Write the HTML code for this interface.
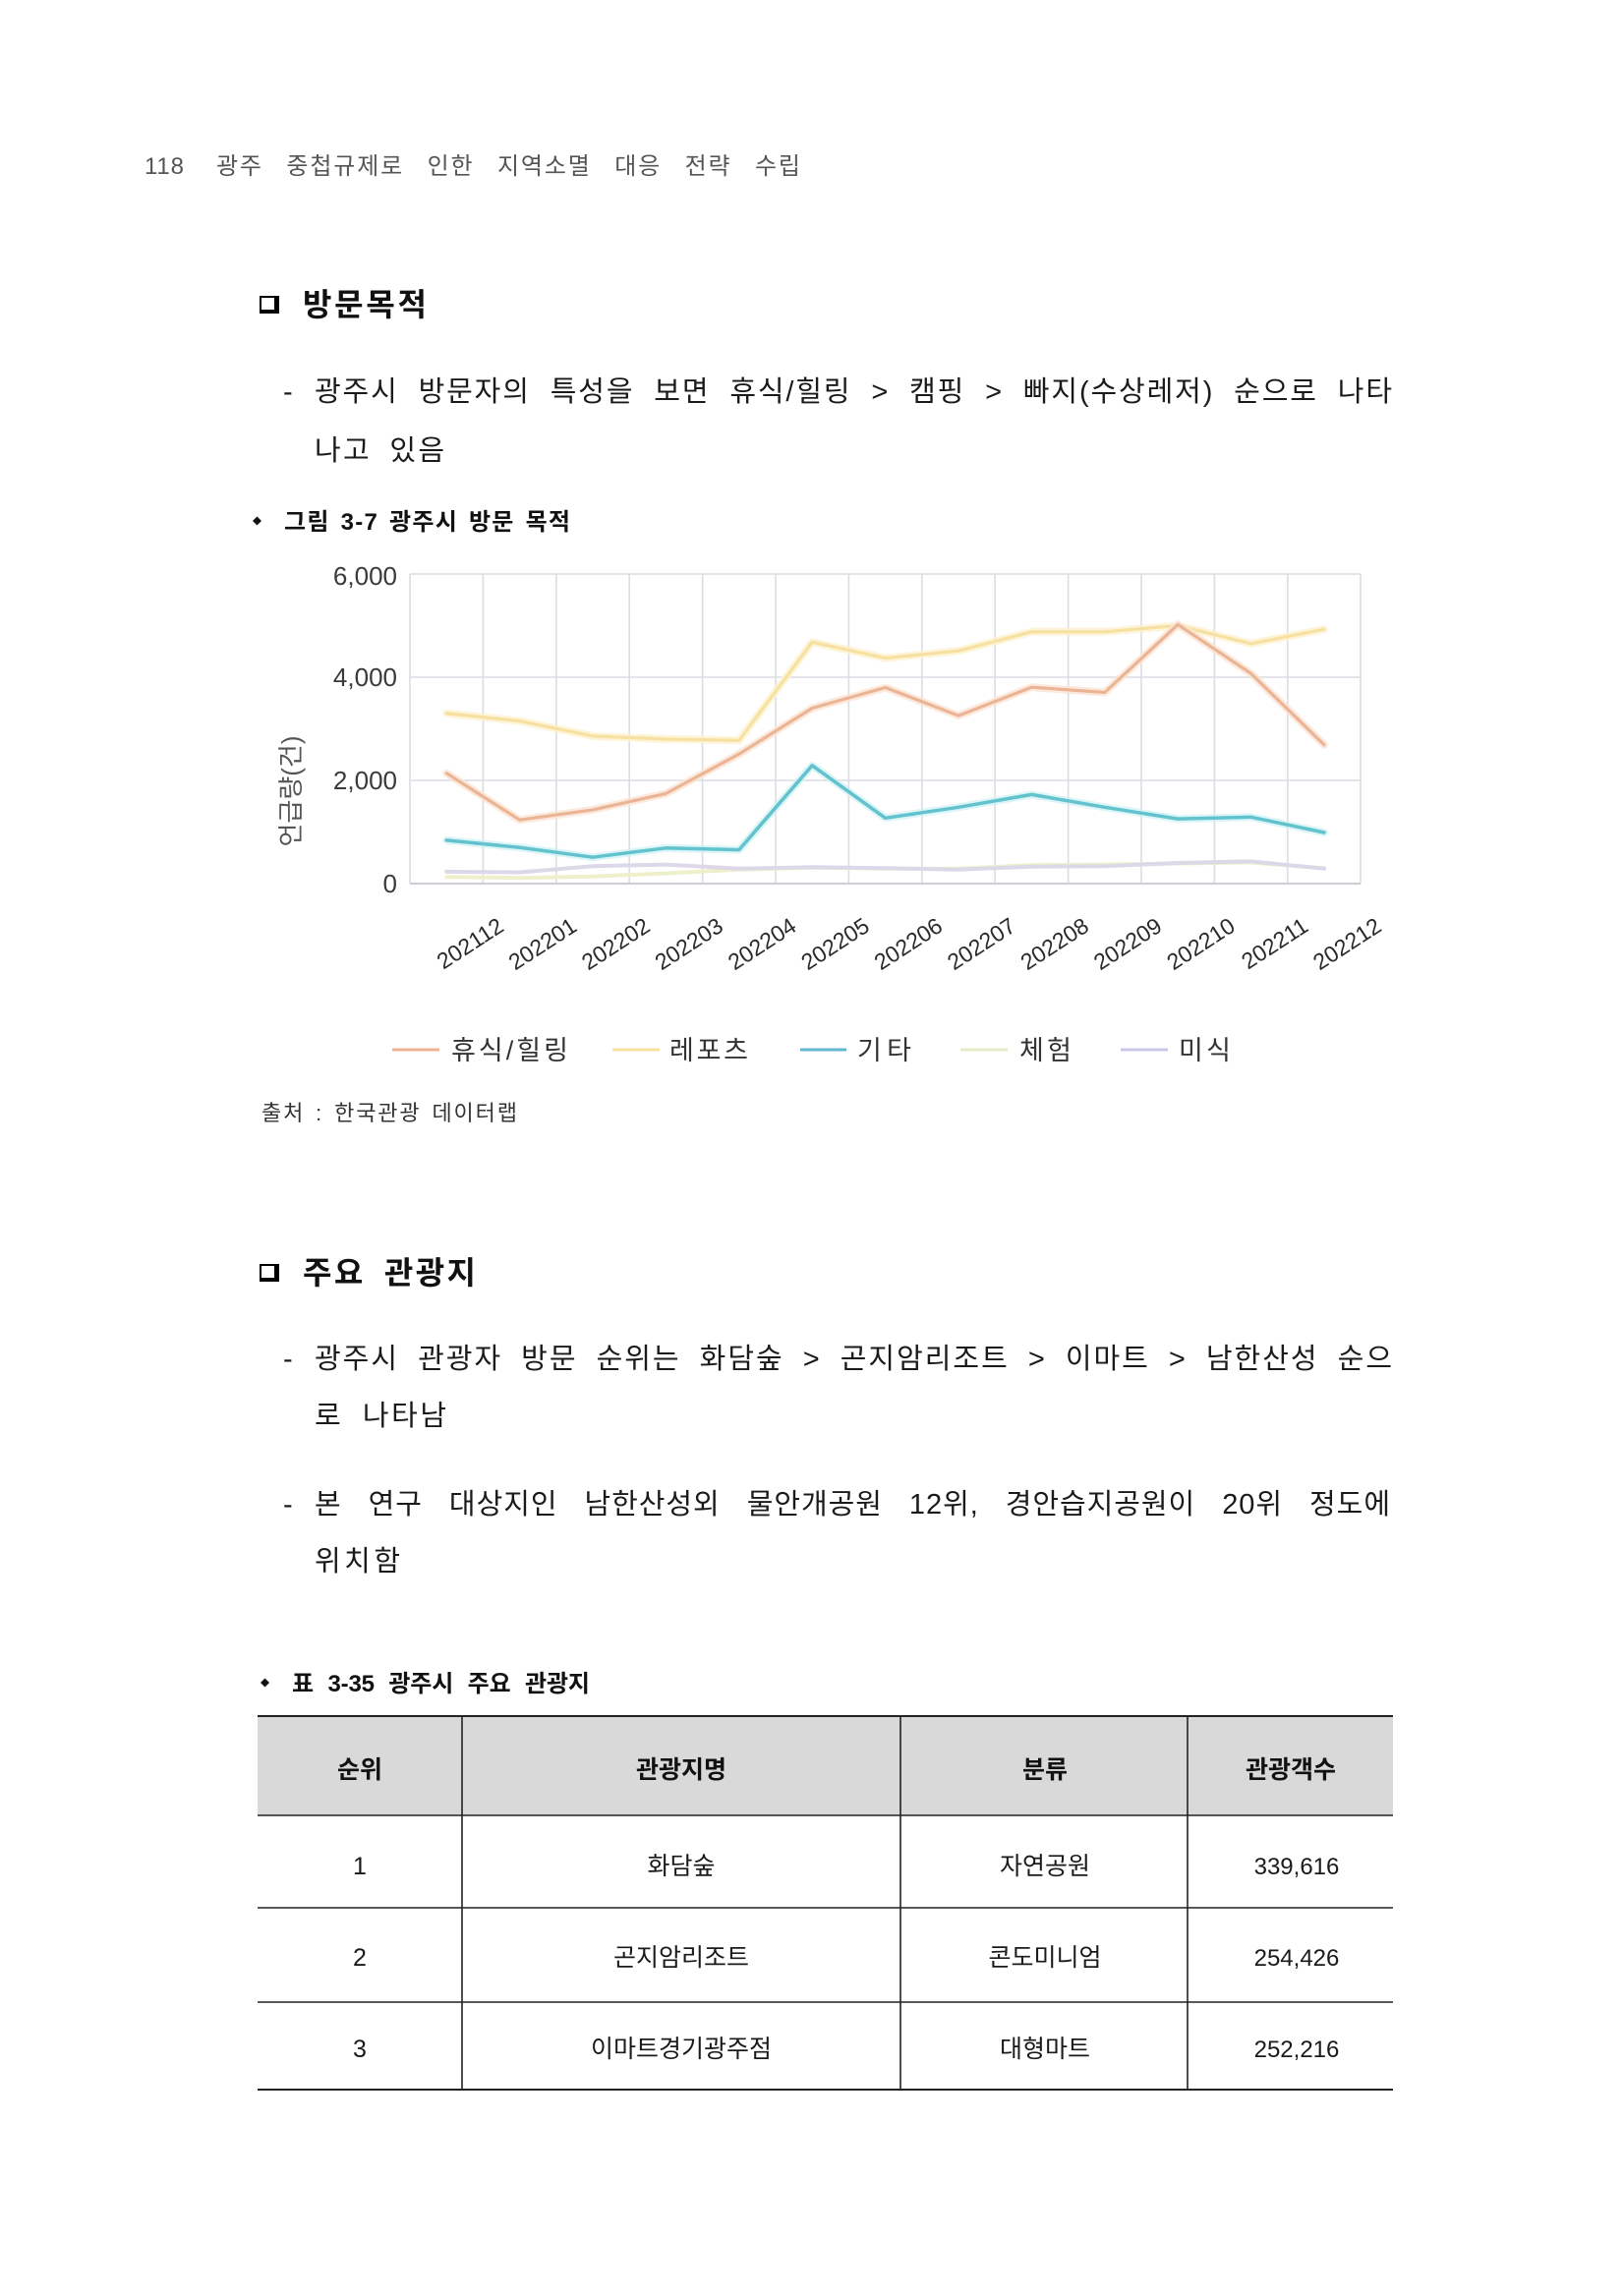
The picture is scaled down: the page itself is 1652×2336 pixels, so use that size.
<!DOCTYPE html>
<html><head><meta charset="utf-8"><style>
html,body{margin:0;padding:0;background:#fff;}
svg{display:block;}
.k{font-family:"Liberation Sans","Noto Sans CJK KR",sans-serif;}
</style></head><body>
<svg width="1652" height="2336" viewBox="0 0 1652 2336" xmlns="http://www.w3.org/2000/svg">
<rect width="1652" height="2336" fill="#fff"/>

<!-- Header -->
<text class="k" x="147" y="177" font-size="24" fill="#555" textLength="40" lengthAdjust="spacing">118</text>
<text class="k" x="220" y="177" font-size="24" fill="#555" style="word-spacing:15px" textLength="594" lengthAdjust="spacing">광주 중첩규제로 인한 지역소멸 대응 전략 수립</text>

<!-- Heading 1 -->
<rect x="264" y="301" width="20" height="18" fill="#000"/>
<rect x="266" y="303" width="13" height="12" fill="#fff"/>
<text class="k" x="308" y="321" font-size="32" font-weight="bold" fill="#111" textLength="126" lengthAdjust="spacing">방문목적</text>

<!-- Body 1 -->
<text class="k" x="288" y="408" font-size="29" fill="#1a1a1a">-</text>
<text class="k" x="320" y="408" font-size="29" fill="#1a1a1a" style="word-spacing:10px" textLength="1096" lengthAdjust="spacing">광주시 방문자의 특성을 보면 휴식/힐링 &gt; 캠핑 &gt; 빠지(수상레저) 순으로 나타</text>
<text class="k" x="320" y="468" font-size="29" fill="#1a1a1a" style="word-spacing:8px" textLength="132" lengthAdjust="spacing">나고 있음</text>

<!-- Caption 1 -->
<polygon points="261.5,525.5 266,530 261.5,534.5 257,530" fill="#111"/>
<text class="k" x="289" y="539" font-size="24" font-weight="bold" fill="#111" style="word-spacing:3px" textLength="291" lengthAdjust="spacing">그림 3-7 광주시 방문 목적</text>

<!-- Chart grid -->
<g stroke="#dcdce3" stroke-width="1.6" fill="none">
<line x1="417" y1="584" x2="1384" y2="584"/>
<line x1="417" y1="689" x2="1384" y2="689"/>
<line x1="417" y1="794" x2="1384" y2="794"/>
<line x1="417" y1="584" x2="417" y2="899"/>
<line x1="1384" y1="584" x2="1384" y2="899"/>
<line x1="491.4" y1="584" x2="491.4" y2="899"/>
<line x1="565.8" y1="584" x2="565.8" y2="899"/>
<line x1="640.2" y1="584" x2="640.2" y2="899"/>
<line x1="714.6" y1="584" x2="714.6" y2="899"/>
<line x1="789.0" y1="584" x2="789.0" y2="899"/>
<line x1="863.4" y1="584" x2="863.4" y2="899"/>
<line x1="937.8" y1="584" x2="937.8" y2="899"/>
<line x1="1012.2" y1="584" x2="1012.2" y2="899"/>
<line x1="1086.6" y1="584" x2="1086.6" y2="899"/>
<line x1="1161.0" y1="584" x2="1161.0" y2="899"/>
<line x1="1235.4" y1="584" x2="1235.4" y2="899"/>
<line x1="1309.8" y1="584" x2="1309.8" y2="899"/>
</g>
<line x1="417" y1="899" x2="1384" y2="899" stroke="#cfcfd6" stroke-width="2.2"/>

<!-- Y labels -->
<g class="k" font-size="26" fill="#3a3a3a" text-anchor="end">
<text x="404" y="595">6,000</text>
<text x="404" y="698">4,000</text>
<text x="404" y="803">2,000</text>
<text x="404" y="908">0</text>
</g>
<text class="k" x="305" y="805" font-size="26" fill="#555" text-anchor="middle" transform="rotate(-90 305 805)">언급량(건)</text>

<!-- Series -->
<g fill="none" stroke-linejoin="round" stroke-linecap="round">
<polyline stroke="#eef0cc" stroke-width="4" points="454.2,892.2 528.6,893.2 603,891.7 677.4,888.5 751.8,884.8 826.2,882.7 900.6,883.8 975,883.8 1049.4,880.1 1123.8,879.6 1198.2,878.5 1272.6,877.5 1347,883.3"/>
<polyline stroke="#dcd8e8" stroke-width="4" points="454.2,886.9 528.6,887.5 603,881.2 677.4,879.6 751.8,883.8 826.2,882.2 900.6,883.3 975,884.8 1049.4,881.7 1123.8,881.2 1198.2,878 1272.6,876.4 1347,883.8"/>
<polyline stroke="#cdf1f4" stroke-width="8" opacity="0.7" points="454.2,854.9 528.6,862.25 603,872.2 677.4,862.8 751.8,864.6 826.2,778.8 900.6,832.3 975,821.3 1049.4,808.4 1123.8,821.3 1198.2,833.1 1272.6,831.3 1347,847"/>
<polyline stroke="#62c2cd" stroke-width="3.5" points="454.2,854.9 528.6,862.25 603,872.2 677.4,862.8 751.8,864.6 826.2,778.8 900.6,832.3 975,821.3 1049.4,808.4 1123.8,821.3 1198.2,833.1 1272.6,831.3 1347,847"/>
<polyline stroke="#fdf1cf" stroke-width="8" opacity="0.8" points="454.2,725.75 528.6,733.6 603,748.9 677.4,752 751.8,753.3 826.2,653.3 900.6,669.6 975,662.2 1049.4,642.8 1123.8,642.8 1198.2,636.5 1272.6,654.9 1347,640.2"/>
<polyline stroke="#f7e1a0" stroke-width="3.2" points="454.2,725.75 528.6,733.6 603,748.9 677.4,752 751.8,753.3 826.2,653.3 900.6,669.6 975,662.2 1049.4,642.8 1123.8,642.8 1198.2,636.5 1272.6,654.9 1347,640.2"/>
<polyline stroke="#fbe3d4" stroke-width="8" opacity="0.8" points="454.2,786.7 528.6,834.2 603,823.9 677.4,807.4 751.8,767.2 826.2,720.5 900.6,699.5 975,728.1 1049.4,699.2 1123.8,704.5 1198.2,635.4 1272.6,685.3 1347,757.8"/>
<polyline stroke="#ebb494" stroke-width="3.2" points="454.2,786.7 528.6,834.2 603,823.9 677.4,807.4 751.8,767.2 826.2,720.5 900.6,699.5 975,728.1 1049.4,699.2 1123.8,704.5 1198.2,635.4 1272.6,685.3 1347,757.8"/>
</g>

<!-- X labels -->
<g class="k" font-size="23" fill="#2a2a2a" text-anchor="end">
<text x="514" y="946" transform="rotate(-33 514 946)">202112</text>
<text x="588.4" y="946" transform="rotate(-33 588.4 946)">202201</text>
<text x="662.8" y="946" transform="rotate(-33 662.8 946)">202202</text>
<text x="737.2" y="946" transform="rotate(-33 737.2 946)">202203</text>
<text x="811.6" y="946" transform="rotate(-33 811.6 946)">202204</text>
<text x="886" y="946" transform="rotate(-33 886 946)">202205</text>
<text x="960.4" y="946" transform="rotate(-33 960.4 946)">202206</text>
<text x="1034.8" y="946" transform="rotate(-33 1034.8 946)">202207</text>
<text x="1109.2" y="946" transform="rotate(-33 1109.2 946)">202208</text>
<text x="1183.6" y="946" transform="rotate(-33 1183.6 946)">202209</text>
<text x="1258" y="946" transform="rotate(-33 1258 946)">202210</text>
<text x="1332.4" y="946" transform="rotate(-33 1332.4 946)">202211</text>
<text x="1406.8" y="946" transform="rotate(-33 1406.8 946)">202212</text>
</g>

<!-- Legend -->
<g stroke-width="3">
<line x1="399" y1="1068" x2="447" y2="1068" stroke="#ebb494"/>
<line x1="623" y1="1068" x2="671" y2="1068" stroke="#f7e1a0"/>
<line x1="814" y1="1068" x2="861" y2="1068" stroke="#62b8d0"/>
<line x1="977" y1="1068" x2="1025" y2="1068" stroke="#e6ecc8"/>
<line x1="1140" y1="1068" x2="1188" y2="1068" stroke="#c9c8e4"/>
</g>
<g class="k" font-size="27" fill="#333">
<text x="459" y="1078" textLength="119" lengthAdjust="spacing">휴식/힐링</text>
<text x="681" y="1078" textLength="80" lengthAdjust="spacing">레포츠</text>
<text x="872" y="1078" textLength="55" lengthAdjust="spacing">기타</text>
<text x="1037" y="1078" textLength="53" lengthAdjust="spacing">체험</text>
<text x="1199" y="1078" textLength="53" lengthAdjust="spacing">미식</text>
</g>

<!-- Source -->
<text class="k" x="266" y="1140" font-size="22" fill="#333" style="word-spacing:3px" textLength="260" lengthAdjust="spacing">출처 : 한국관광 데이터랩</text>

<!-- Heading 2 -->
<rect x="264" y="1286" width="20" height="18" fill="#000"/>
<rect x="266" y="1288" width="13" height="12" fill="#fff"/>
<text class="k" x="308" y="1306" font-size="32" font-weight="bold" fill="#111" style="word-spacing:8px" textLength="176" lengthAdjust="spacing">주요 관광지</text>

<!-- Body 2 -->
<text class="k" x="288" y="1392" font-size="29" fill="#1a1a1a">-</text>
<text class="k" x="320" y="1392" font-size="29" fill="#1a1a1a" style="word-spacing:9px" textLength="1096" lengthAdjust="spacing">광주시 관광자 방문 순위는 화담숲 &gt; 곤지암리조트 &gt; 이마트 &gt; 남한산성 순으</text>
<text class="k" x="320" y="1450" font-size="29" fill="#1a1a1a" style="word-spacing:9px" textLength="134" lengthAdjust="spacing">로 나타남</text>
<text class="k" x="288" y="1540" font-size="29" fill="#1a1a1a">-</text>
<text class="k" x="320" y="1540" font-size="29" fill="#1a1a1a" style="word-spacing:18px" textLength="1094" lengthAdjust="spacing">본 연구 대상지인 남한산성외 물안개공원 12위, 경안습지공원이 20위 정도에</text>
<text class="k" x="320" y="1598" font-size="29" fill="#1a1a1a" textLength="87" lengthAdjust="spacing">위치함</text>

<!-- Caption 2 -->
<polygon points="269.5,1707.5 274,1712 269.5,1716.5 265,1712" fill="#111"/>
<text class="k" x="297" y="1721" font-size="24" font-weight="bold" fill="#111" style="word-spacing:8px" textLength="303" lengthAdjust="spacing">표 3-35 광주시 주요 관광지</text>

<!-- Table -->
<rect x="262" y="1746" width="1155" height="101" fill="#d9d9d9"/>
<g stroke="#222">
<line x1="262" y1="1746" x2="1417" y2="1746" stroke-width="2"/>
<line x1="262" y1="1847" x2="1417" y2="1847" stroke-width="1.6"/>
<line x1="262" y1="1941" x2="1417" y2="1941" stroke-width="1.6"/>
<line x1="262" y1="2037" x2="1417" y2="2037" stroke-width="1.6"/>
<line x1="262" y1="2126" x2="1417" y2="2126" stroke-width="2"/>
<line x1="470" y1="1746" x2="470" y2="2126" stroke-width="1.6"/>
<line x1="916" y1="1746" x2="916" y2="2126" stroke-width="1.6"/>
<line x1="1208" y1="1746" x2="1208" y2="2126" stroke-width="1.6"/>
</g>
<g class="k" font-size="25" font-weight="bold" fill="#111" text-anchor="middle">
<text x="366" y="1809">순위</text>
<text x="693" y="1809">관광지명</text>
<text x="1063" y="1809">분류</text>
<text x="1313" y="1809">관광객수</text>
</g>
<g class="k" font-size="25" fill="#1a1a1a" text-anchor="middle">
<text x="366" y="1907">1</text>
<text x="693" y="1907">화담숲</text>
<text x="1063" y="1907">자연공원</text>
<text x="1319" y="1907" font-size="24">339,616</text>
<text x="366" y="2000">2</text>
<text x="693" y="2000">곤지암리조트</text>
<text x="1063" y="2000">콘도미니엄</text>
<text x="1319" y="2000" font-size="24">254,426</text>
<text x="366" y="2093">3</text>
<text x="693" y="2093">이마트경기광주점</text>
<text x="1063" y="2093">대형마트</text>
<text x="1319" y="2093" font-size="24">252,216</text>
</g>
</svg>
</body></html>
